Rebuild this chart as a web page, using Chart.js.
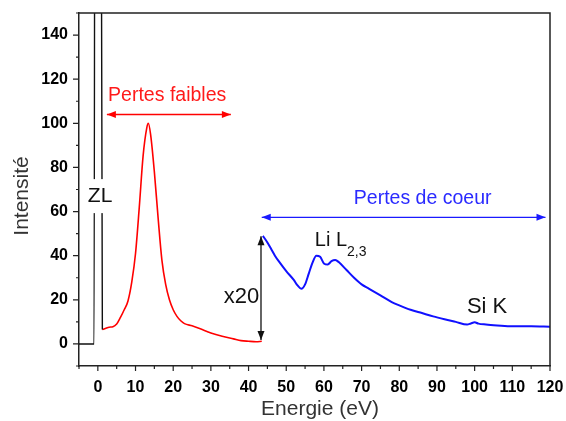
<!DOCTYPE html>
<html>
<head>
<meta charset="utf-8">
<script src="https://cdn.jsdelivr.net/npm/chart.js@4.4.1/dist/chart.umd.min.js"></script>
<style>
  body { margin: 0; background: #fff; }
  canvas { display: block; }
</style>
</head>
<body>
<canvas id="spectre" width="566" height="421"></canvas>
<script>
// zero loss peak (black)
const zlEnergy = [-5, -1.0, -0.7, 0.5, 1.2];
const zlIntensity = [0, 0, 400, 400, 6.5];

// pertes faibles (red)
const lowEnergy = [1.2, 2, 3, 4, 5, 6, 7, 8, 9, 10, 11, 12, 13, 13.4, 14, 15, 16, 17, 18, 19, 20, 21, 22, 23, 25, 27, 30, 33, 36, 38, 40, 42, 43.5];
const lowIntensity = [6.5, 7, 7.6, 7.8, 9, 12, 15.5, 19.5, 28, 41, 62, 85, 98, 100, 95, 78, 57, 38, 27, 20, 15.5, 12.5, 10.5, 9.2, 8.2, 7, 5, 3.5, 2.3, 1.5, 1.2, 1, 1.2];

// pertes de coeur x20 (blue)
const coreEnergy = [43.8, 45, 46, 47, 48, 50, 52, 53, 54, 55, 56, 57, 58, 59, 60, 61, 62, 63, 64, 66, 68, 70, 72, 75, 78, 80, 83, 86, 89, 92, 95, 98, 99, 100, 101, 103, 106, 110, 115, 120];
const coreIntensity = [49, 46, 43, 40, 37.5, 33, 29, 26.5, 25, 27, 32, 37, 40, 39.5, 36.5, 36, 37.5, 38, 37, 33.5, 30, 27, 25, 22, 19, 17.5, 15.5, 14, 12.5, 11.2, 10, 8.8, 9.3, 9.8, 9.2, 8.8, 8.4, 8, 8, 7.8];

const xLabelValues = [0, 10, 20, 30, 40, 50, 60, 70, 80, 90, 100, 110, 120];
const yLabelValues = [0, 20, 40, 60, 80, 100, 120, 140];

const FONT = '"Liberation Sans", Arial, sans-serif';

function toPoints(xs, ys) {
    return xs.map((x, i) => ({ x: x, y: ys[i] }));
}

function arrowHead(ctx, x, y, dx, dy) {
    // dx,dy : unit direction the arrow points to
    const len = 9, half = 3.5;
    ctx.beginPath();
    ctx.moveTo(x, y);
    ctx.lineTo(x - dx * len - dy * half, y - dy * len + dx * half);
    ctx.lineTo(x - dx * len + dy * half, y - dy * len - dx * half);
    ctx.closePath();
    ctx.fill();
}

function text(ctx, str, x, y, size, color, align) {
    ctx.font = size + 'px ' + FONT;
    ctx.fillStyle = color;
    ctx.textAlign = align || 'center';
    ctx.textBaseline = 'middle';
    ctx.fillText(str, x, y);
}

const decorations = {
    id: 'decorations',
    afterDraw(chart) {
        const ctx = chart.ctx;
        const xs = chart.scales.x, ys = chart.scales.y;
        const area = chart.chartArea;
        const px = v => xs.getPixelForValue(v);
        const py = v => ys.getPixelForValue(v);
        ctx.save();

        // box top / right
        ctx.strokeStyle = '#222';
        ctx.lineWidth = 1.5;
        ctx.beginPath();
        ctx.moveTo(area.left, area.top);
        ctx.lineTo(area.right, area.top);
        ctx.lineTo(area.right, area.bottom);
        ctx.stroke();

        // tick marks (major + minor)
        ctx.lineWidth = 1.2;
        ctx.beginPath();
        for (let v = -5; v <= 120; v += 5) {
            const l = v % 10 === 0 ? 5 : 3;
            ctx.moveTo(px(v), area.bottom);
            ctx.lineTo(px(v), area.bottom + l);
        }
        for (let v = -10; v <= 150; v += 10) {
            const l = v % 20 === 0 ? 6 : 3;
            ctx.moveTo(area.left, py(v));
            ctx.lineTo(area.left - l, py(v));
        }
        ctx.stroke();

        // axis titles
        text(ctx, 'Energie (eV)', 320, 409, 21, '#333');
        ctx.save();
        ctx.translate(22, 196);
        ctx.rotate(-Math.PI / 2);
        text(ctx, 'Intensité', 0, 0, 21, '#333');
        ctx.restore();

        // ZL label on white
        ctx.fillStyle = '#fff';
        ctx.fillRect(px(0.6) - 13, py(67) - 17, 26, 34);
        text(ctx, 'ZL', px(0.6), py(67), 21, '#111');

        // pertes faibles
        ctx.strokeStyle = '#ff0000';
        ctx.fillStyle = '#ff0000';
        ctx.lineWidth = 1.3;
        ctx.beginPath();
        ctx.moveTo(px(2.4), py(104));
        ctx.lineTo(px(35.3), py(104));
        ctx.stroke();
        arrowHead(ctx, px(2.4), py(104), -1, 0);
        arrowHead(ctx, px(35.3), py(104), 1, 0);
        text(ctx, 'Pertes faibles', px(18.4), py(112.4), 19.5, '#ff1a1a');

        // pertes de coeur
        ctx.strokeStyle = '#1a1aff';
        ctx.fillStyle = '#1a1aff';
        ctx.beginPath();
        ctx.moveTo(px(43.5), py(57.4));
        ctx.lineTo(px(118.8), py(57.4));
        ctx.stroke();
        arrowHead(ctx, px(43.5), py(57.4), -1, 0);
        arrowHead(ctx, px(118.8), py(57.4), 1, 0);
        text(ctx, 'Pertes de coeur', px(86.2), py(65.8), 19.5, '#2a2aff');

        // x20 vertical arrow
        ctx.strokeStyle = '#111';
        ctx.fillStyle = '#111';
        ctx.beginPath();
        ctx.moveTo(px(43.3), py(48.8));
        ctx.lineTo(px(43.3), py(1.8));
        ctx.stroke();
        arrowHead(ctx, px(43.3), py(48.8), 0, -1);
        arrowHead(ctx, px(43.3), py(1.8), 0, 1);
        text(ctx, 'x20', px(38.1), py(21.5), 22, '#111');

        // Li L2,3
        text(ctx, 'Li L', px(61.9) + 16, py(47), 20, '#111', 'right');
        text(ctx, '2,3', px(61.9) + 16, py(41.5), 14, '#111', 'left');

        // Si K
        text(ctx, 'Si K', px(103.3), py(16.7), 22, '#111');

        ctx.restore();
    }
};

new Chart(document.getElementById('spectre'), {
    type: 'line',
    data: {
        datasets: [
            { data: toPoints(zlEnergy, zlIntensity), borderColor: '#111', borderWidth: 1.4 },
            { data: toPoints(lowEnergy, lowIntensity), borderColor: '#ff0000', borderWidth: 1.6 },
            { data: toPoints(coreEnergy, coreIntensity), borderColor: '#1010ff', borderWidth: 2 }
        ]
    },
    options: {
        responsive: false,
        animation: false,
        layout: { padding: { left: 0, right: 16, top: 13, bottom: 0 } },
        elements: { point: { radius: 0 }, line: { tension: 0.3, cubicInterpolationMode: 'monotone' } },
        plugins: { legend: { display: false }, tooltip: { enabled: false } },
        scales: {
            x: {
                type: 'linear',
                min: -5,
                max: 120,
                afterFit: s => { s.height = 55; s.paddingLeft = 0; s.paddingRight = 0; },
                grid: { display: false, drawTicks: false },
                border: { display: true, color: '#222', width: 1.5 },
                ticks: {
                    stepSize: 5,
                    autoSkip: false,
                    maxRotation: 0,
                    padding: 12,
                    color: '#000',
                    font: { family: FONT, size: 16, weight: 'bold' },
                    callback: v => xLabelValues.includes(v) ? v : ''
                }
            },
            y: {
                min: -10,
                max: 150,
                afterFit: s => { s.width = 79; s.paddingTop = 0; s.paddingBottom = 0; },
                grid: { display: false, drawTicks: false },
                border: { display: true, color: '#222', width: 1.5 },
                ticks: {
                    stepSize: 10,
                    autoSkip: false,
                    padding: 11,
                    color: '#000',
                    font: { family: FONT, size: 16, weight: 'bold' },
                    callback: v => yLabelValues.includes(v) ? v : ''
                }
            }
        }
    },
    plugins: [decorations]
});
</script>
</body>
</html>
